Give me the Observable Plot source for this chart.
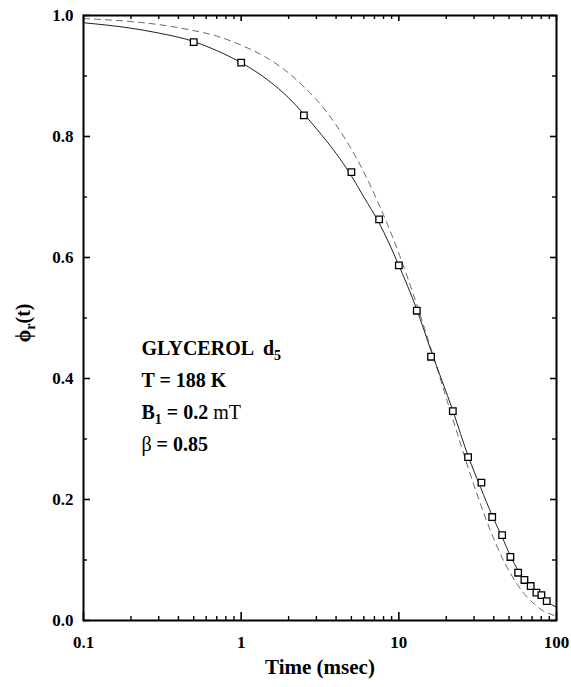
<!DOCTYPE html>
<html>
<head>
<meta charset="utf-8">
<script src="https://cdn.jsdelivr.net/npm/d3@7"></script>
<script src="https://cdn.jsdelivr.net/npm/@observablehq/plot@0.6"></script>
<style>
  html, body { margin: 0; padding: 0; background: #fff; }
  #chart svg { display: block; overflow: visible; }
  #chart text { white-space: pre; }
</style>
</head>
<body>
<div id="chart"></div>
<script>
// Measured rotational correlation decay, glycerol-d5 at 188 K
const timeMs = [0.5, 1, 2.5, 5, 7.5, 10, 13, 16, 22, 27.5, 33.4, 39.1, 45.2, 51, 57.1, 62.6, 68.6, 74.6, 80.2, 86.7];
const phiR   = [0.956, 0.922, 0.835, 0.741, 0.663, 0.587, 0.512, 0.436, 0.346, 0.270, 0.228, 0.171, 0.141, 0.105, 0.079, 0.067, 0.057, 0.046, 0.042, 0.032];

// Fitted curves: stretched exponential (solid) and single exponential (dashed)
const fitTime        = [0.1, 0.2, 0.3, 0.5, 0.7, 1, 1.5, 2, 2.5, 3, 4, 5, 6, 7.5, 10, 13, 16, 22, 27.5, 33, 39, 45, 51, 57, 63, 69, 75, 80, 87, 100];
const fitStretched   = [0.988, 0.979, 0.971, 0.957, 0.942, 0.922, 0.892, 0.864, 0.837, 0.813, 0.772, 0.735, 0.700, 0.657, 0.587, 0.514, 0.446, 0.347, 0.272, 0.220, 0.174, 0.139, 0.107, 0.083, 0.066, 0.054, 0.045, 0.039, 0.031, 0.022];
const fitExponential = [0.995, 0.990, 0.985, 0.975, 0.966, 0.951, 0.928, 0.905, 0.882, 0.861, 0.819, 0.779, 0.741, 0.687, 0.607, 0.522, 0.449, 0.333, 0.253, 0.192, 0.142, 0.105, 0.078, 0.058, 0.043, 0.032, 0.024, 0.018, 0.013, 0.007];

// Axis ticks
const xMajor = [0.1, 1, 10, 100];
const xMinor = [0.2, 0.3, 0.4, 0.5, 0.6, 0.7, 0.8, 0.9, 2, 3, 4, 5, 6, 7, 8, 9, 20, 30, 40, 50, 60, 70, 80, 90];
const yMajor = [0, 0.2, 0.4, 0.6, 0.8, 1.0];
const yMinor = [0.1, 0.3, 0.5, 0.7, 0.9];

// Annotation block: each line is a list of [text, style] runs
const annotation = [
  [["GLYCEROL  d", "b"], ["5", "sub"]],
  [["T = 188 K", "b"]],
  [["B", "b"], ["1", "sub"], [" = 0.2 ", "b"], ["mT", "r"]],
  [["\u03B2", "r"], [" = 0.85", "b"]]
];
const yTitle = [["\u03D5", "b"], ["r", "sub"], ["(t)", "b"]];
const xTitle = "Time (msec)";

const plain = runs => runs.map(p => p[0]).join("");
const points = timeMs.map((t, i) => ({t, v: phiR[i]}));
const fit = fitTime.map((t, i) => ({t, s: fitStretched[i], e: fitExponential[i]}));

const width = 571, height = 687;
const margin = {top: 15, right: 15, bottom: 67, left: 83};
const fw = width - margin.left - margin.right;
const fh = height - margin.top - margin.bottom;
const serif = "'Liberation Serif', 'Times New Roman', serif";

const svg = Plot.plot({
  width, height,
  marginTop: margin.top, marginRight: margin.right,
  marginBottom: margin.bottom, marginLeft: margin.left,
  style: {fontFamily: serif, background: "#fff", color: "#000"},
  x: {type: "log", domain: [0.1, 100]},
  y: {domain: [0, 1]},
  marks: [
    Plot.axisX(xMajor, {tickSize: 0, tickPadding: 15, tickFormat: d => String(d), fontSize: 17, fontWeight: "bold", label: null}),
    Plot.axisY(yMajor, {tickSize: 0, tickPadding: 10, tickFormat: d => d.toFixed(1), fontSize: 17, fontWeight: "bold", label: null}),

    // inward ticks on all four sides
    Plot.tickX(xMajor, {x: d => d, insetTop: fh - 8, stroke: "#000", strokeWidth: 1.6}),
    Plot.tickX(xMinor, {x: d => d, insetTop: fh - 4, stroke: "#000", strokeWidth: 1.4}),
    Plot.tickX(xMajor, {x: d => d, insetBottom: fh - 6, stroke: "#000", strokeWidth: 1.6}),
    Plot.tickX(xMinor, {x: d => d, insetBottom: fh - 4, stroke: "#000", strokeWidth: 1.4}),
    Plot.tickY(yMajor, {y: d => d, insetRight: fw - 7, stroke: "#000", strokeWidth: 1.6}),
    Plot.tickY(yMinor, {y: d => d, insetRight: fw - 4, stroke: "#000", strokeWidth: 1.4}),
    Plot.tickY(yMajor, {y: d => d, insetLeft: fw - 6, stroke: "#000", strokeWidth: 1.6}),
    Plot.tickY(yMinor, {y: d => d, insetLeft: fw - 4, stroke: "#000", strokeWidth: 1.4}),

    Plot.line(fit, {x: "t", y: "e", stroke: "#666", strokeWidth: 1, strokeDasharray: "6,5", curve: "monotone-x"}),
    Plot.line(fit, {x: "t", y: "s", stroke: "#222", strokeWidth: 1, curve: "monotone-x"}),
    Plot.dot(points, {x: "t", y: "v", symbol: "square", r: 3.7, stroke: "#000", fill: "#fff", strokeWidth: 1.3}),

    Plot.frame({stroke: "#000", strokeWidth: 2}),

    Plot.text(annotation, {
      x: () => 0.233, y: (d, i) => 0.449 - i * 0.0525,
      text: plain, textAnchor: "start", fontSize: 20, fill: "#000"
    }),
    Plot.text([yTitle], {
      frameAnchor: "left", y: () => 0.46, dx: -60, rotate: -90,
      text: plain, fontSize: 20, fill: "#000"
    }),
    Plot.text([xTitle], {
      frameAnchor: "bottom", dy: 53, text: d => d,
      fontSize: 21, fontWeight: "bold", fill: "#000"
    })
  ]
});

// Rich text: bold runs, regular runs and subscripts
function setRuns(node, runs) {
  const sel = d3.select(node);
  sel.selectAll("*").remove();
  sel.text(null);
  let shifted = false;
  for (const [txt, style] of runs) {
    const ts = sel.append("tspan").text(txt);
    if (style === "sub") {
      ts.attr("font-size", 14).attr("font-weight", "bold").attr("dy", 5);
      shifted = true;
    } else {
      ts.attr("font-weight", style === "b" ? "bold" : "normal");
      if (shifted) { ts.attr("dy", -5); shifted = false; }
    }
  }
}
const richLines = [...annotation, yTitle];
d3.select(svg).selectAll("text").each(function() {
  const content = this.textContent;
  const runs = richLines.find(r => plain(r) === content);
  if (runs) setRuns(this, runs);
});
d3.select(svg).selectAll('g[aria-label="x-axis tick label"] text, g[aria-label="y-axis tick label"] text')
  .attr("font-weight", "bold");

document.getElementById("chart").appendChild(svg);
</script>
</body>
</html>
